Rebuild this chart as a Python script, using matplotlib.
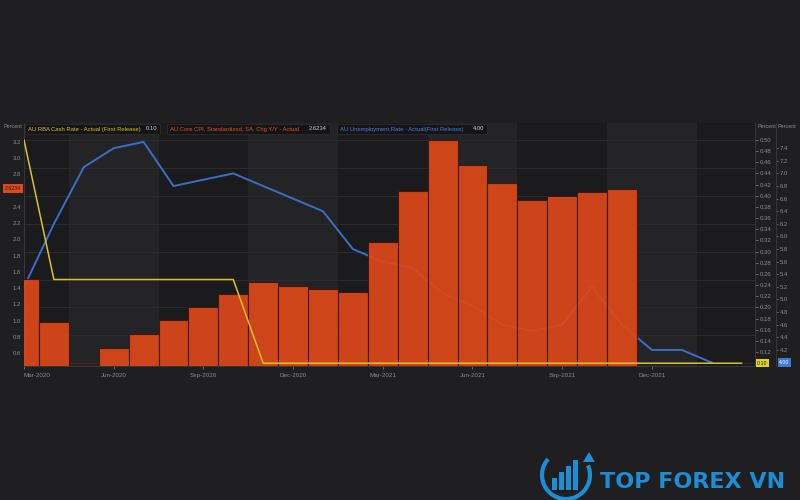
import numpy as np
import matplotlib
matplotlib.use('Agg')
import matplotlib.pyplot as plt
import matplotlib.transforms as mtransforms
from matplotlib.patches import Rectangle, Arc, Polygon
from matplotlib.ticker import FixedLocator, MultipleLocator, FormatStrFormatter, FuncFormatter

# monthly data, Mar-2020 = month 0
core_cpi = [1.51, 0.99, 0.46, 0.67, 0.84, 1.01, 1.17, 1.33, 1.48, 1.43, 1.39,
            1.35, 1.97, 2.59, 3.22, 2.91, 2.69, 2.48, 2.53, 2.58, 2.6234]
unemployment = [5.2, 6.2, 7.1, 7.4, 7.5, 6.8, 6.9, 7.0, 6.8, 6.6, 6.4, 5.8,
                5.6, 5.5, 5.1, 4.9, 4.6, 4.5, 4.6, 5.2, 4.6, 4.2, 4.2, 4.0]
cash_rate = [0.50, 0.25, 0.25, 0.25, 0.25, 0.25, 0.25, 0.25, 0.10, 0.10, 0.10,
             0.10, 0.10, 0.10, 0.10, 0.10, 0.10, 0.10, 0.10, 0.10, 0.10, 0.10,
             0.10, 0.10, 0.10]
tick_labels = ['Mar-2020', 'Jun-2020', 'Sep-2020', 'Dec-2020',
               'Mar-2021', 'Jun-2021', 'Sep-2021', 'Dec-2021']
tick_months = [0, 3, 6, 9, 12, 15, 18, 21]
shaded_quarters = [3, 9, 15, 21]   # lighter bands centred on these months

BG = '#1f1f21'
PLOT_BG = '#1b1b1d'
BAND = '#242426'
GRID = '#2c2c2f'
TXT = '#8c8c8f'
ORANGE = '#dc481a'
BLUE = '#3a6ec8'
YELLOW = '#d9c12a'

plt.rcParams['font.family'] = ['Liberation Sans', 'DejaVu Sans']


def fx(x):
    return x / 800


def fy(y):
    return 1 - y / 500


fig = plt.figure(figsize=(8, 5), dpi=100, facecolor=BG)
L, R, T, B = 24, 755, 123, 366
ax = fig.add_axes([fx(L), fy(B), fx(R) - fx(L), fy(T) - fy(B)])
ax_ur = ax.twinx()
ax_cpi = ax.twinx()
ax_cr = ax.twinx()

ax.set_zorder(0)
ax_ur.set_zorder(1)
ax_cpi.set_zorder(2)
ax_cr.set_zorder(3)
ax.set_facecolor(PLOT_BG)

x_cpi = np.arange(len(core_cpi))
x_ur = np.arange(len(unemployment))
x_cr = np.arange(len(cash_rate))

for m in shaded_quarters:
    ax.axvspan(m - 1.5, m + 1.5, color=BAND, lw=0, zorder=0)

ax.set_xlim(0, 24.45)
ax.set_ylim(0.095, 0.5305)
ax.yaxis.set_minor_locator(MultipleLocator(0.05))
ax.yaxis.remove_overlapping_locs = False
ax.grid(which='minor', axis='y', color=GRID, lw=0.7)
ax.set_axisbelow(True)

ax_ur.plot(x_ur, unemployment, color=BLUE, lw=1.4)
ax_ur.set_ylim(3.945, 7.80)

ax_cpi.bar(x_cpi, core_cpi, width=1.0, color=ORANGE, alpha=0.93,
           edgecolor='#3a1a0c', linewidth=0.8)
ax_cpi.set_ylim(0.444, 3.429)

ax_cr.plot(x_cr, cash_rate, color=YELLOW, lw=1.1)
ax_cr.set_ylim(ax.get_ylim())

# axes styling
for a in (ax, ax_ur, ax_cpi, ax_cr):
    for s in a.spines.values():
        s.set_visible(False)

for s in ('right', 'left', 'bottom'):
    ax.spines[s].set_visible(True)
    ax.spines[s].set_color('#38383b')
    ax.spines[s].set_linewidth(0.7)

ax.yaxis.tick_right()
ax.set_yticks(np.arange(0.12, 0.5001, 0.02))
ax.yaxis.set_major_formatter(FormatStrFormatter('%.2f'))
ax.tick_params(axis='y', which='major', colors=TXT, labelsize=4.3,
               length=2, width=0.5, pad=1.5)
ax.tick_params(axis='y', which='minor', length=0)

ax.xaxis.set_major_locator(FixedLocator(tick_months))
ax.set_xticklabels(tick_labels)
ax.tick_params(axis='x', colors=TXT, labelsize=4.5, length=2, width=0.5, pad=3)
ax.get_xticklabels()[0].set_horizontalalignment('left')

ax_ur.spines['right'].set_visible(True)
ax_ur.spines['right'].set_position(('outward', 15.1))
ax_ur.spines['right'].set_color('#38383b')
ax_ur.spines['right'].set_linewidth(0.7)
ax_ur.set_yticks(np.arange(4.2, 7.401, 0.2))
ax_ur.yaxis.set_major_formatter(FormatStrFormatter('%.1f'))
ax_ur.tick_params(axis='y', colors=TXT, labelsize=4.3, length=1.5, width=0.5, pad=1.5)

# the last-value tag sits on top of the 2.6 label, as in the source chart
ax_cpi.yaxis.tick_left()
ax_cpi.set_yticks(np.arange(0.6, 3.201, 0.2))
ax_cpi.yaxis.set_major_formatter(
    FuncFormatter(lambda v, p: '' if abs(v - 2.6) < 1e-6 else '%.1f' % v))
ax_cpi.tick_params(axis='y', colors=TXT, labelsize=4.3, length=0, pad=2)

ax_cr.set_yticks([])

# last-value tags
tr = mtransforms.blended_transform_factory(ax_cpi.transAxes, ax_cpi.transData)
ax_cpi.text(-0.004, core_cpi[-1], '%.4f' % core_cpi[-1], transform=tr, ha='right',
            va='center', fontsize=3.8, color='#202020', zorder=10,
            bbox=dict(boxstyle='square,pad=0.3', fc='#e2481a', ec='none'))
tr = mtransforms.blended_transform_factory(ax_cr.transAxes, ax_cr.transData)
ax_cr.text(1.003, cash_rate[-1], '%.2f' % cash_rate[-1], transform=tr, ha='left',
           va='center', fontsize=3.8, color='#202020', zorder=10,
           bbox=dict(boxstyle='square,pad=0.3', fc='#e6d21e', ec='none'))
tr = mtransforms.blended_transform_factory(ax_ur.transAxes, ax_ur.transData)
ax_ur.text(1.033, unemployment[-1], '%.2f' % unemployment[-1], transform=tr, ha='left',
           va='center', fontsize=3.8, color='white', zorder=10,
           bbox=dict(boxstyle='square,pad=0.3', fc='#3d7ad6', ec='none'))

# "Percent" axis titles
fig.text(fx(3), fy(127), 'Percent', fontsize=3.9, color=TXT, va='center', ha='left')
fig.text(fx(757), fy(127), 'Percent', fontsize=3.9, color=TXT, va='center', ha='left')
fig.text(fx(778), fy(127), 'Percent', fontsize=3.9, color=TXT, va='center', ha='left')

# legend boxes
legend = [
    (25, 160, 'AU RBA Cash Rate - Actual (First Release)', YELLOW, '0.10'),
    (167, 330, 'AU Core CPI, Standardized, SA, Chg Y/Y - Actual', '#e0531f', '2.6234'),
    (337, 487, 'AU Unemployment Rate - Actual(First Release)', '#4a80da', '4.00'),
]
for x0, x1, name, col, val in legend:
    fig.add_artist(Rectangle((fx(x0), fy(134)), fx(x1) - fx(x0), fy(124) - fy(134),
                             transform=fig.transFigure, fc='#151517', ec='#2c2c2f',
                             lw=0.6, zorder=5))
    fig.text(fx(x0 + 3), fy(129), name, fontsize=4.2, color=col, va='center',
             ha='left', zorder=6)
    fig.text(fx(x1 - 3), fy(129), val, fontsize=4.2, color='#cfcfcf', va='center',
             ha='right', zorder=6)

# watermark logo
LOGO = '#1c8ed4'
fig.add_artist(Arc((fx(566), fy(475)), 48 / 800, 48 / 500, theta1=125, theta2=35,
                   transform=fig.transFigure, color=LOGO, lw=3))
bar_h = [12, 18, 24, 30]
for i, h in enumerate(bar_h):
    fig.add_artist(Rectangle((fx(552 + 7 * i), fy(490)), 5 / 800, h / 500,
                             transform=fig.transFigure, fc=LOGO, ec='none'))
fig.add_artist(Polygon([(fx(583), fy(462)), (fx(595), fy(462)), (fx(589), fy(452))],
                       closed=True, transform=fig.transFigure, fc=LOGO, ec='none'))
fig.text(fx(600), fy(482), 'TOP FOREX VN', fontsize=16, fontweight='bold',
         color=LOGO, va='center', ha='left', family=['DejaVu Sans'])

fig.savefig('out.png', dpi=100, facecolor=BG)
